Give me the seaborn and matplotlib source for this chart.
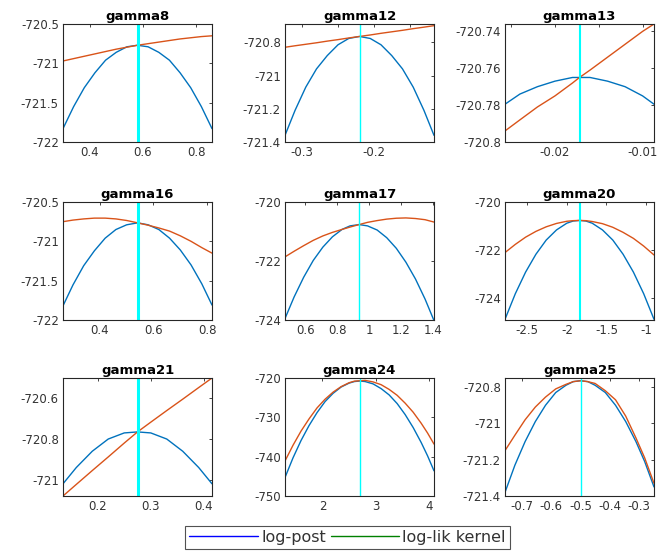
import matplotlib
matplotlib.use("Agg")
import matplotlib.pyplot as plt
from matplotlib.lines import Line2D
import seaborn as sns

sns.set_theme(style="white")
plt.rcParams["font.family"] = ["DejaVu Sans"]
plt.rcParams["axes.unicode_minus"] = False

# ---- data (x grid, log-post, log-lik kernel) ----
NAMES = ["gamma8", "gamma12", "gamma13", "gamma16", "gamma17",
         "gamma20", "gamma21", "gamma24", "gamma25"]
MODES = [0.58, -0.22, -0.0172, 0.541, 0.937, -1.84, 0.275, 2.70, -0.50]

G8_X = [0.30, 0.34, 0.38, 0.42, 0.46, 0.50, 0.54, 0.58,
        0.62, 0.66, 0.70, 0.74, 0.78, 0.82, 0.86]
G8_POST = [-721.83, -721.55, -721.31, -721.12, -720.96, -720.86, -720.79, -720.77,
           -720.79, -720.86, -720.96, -721.12, -721.31, -721.55, -721.83]
G8_LIK = [-720.97, -720.94, -720.91, -720.88, -720.85, -720.82, -720.795, -720.77,
          -720.75, -720.73, -720.71, -720.69, -720.675, -720.66, -720.65]

G12_X = [-0.324, -0.31, -0.295, -0.28, -0.265, -0.25, -0.235, -0.22,
         -0.205, -0.19, -0.175, -0.16, -0.145, -0.13, -0.116]
G12_POST = [-721.36, -721.21, -721.07, -720.96, -720.88, -720.815, -720.777, -720.765,
            -720.777, -720.815, -720.88, -720.96, -721.07, -721.21, -721.36]
G12_LIK = [-720.83, -720.821, -720.812, -720.803, -720.793, -720.784, -720.774, -720.765,
           -720.756, -720.746, -720.737, -720.728, -720.718, -720.709, -720.70]

G13_X = [-0.0257, -0.024, -0.022, -0.020, -0.018, -0.0172,
         -0.016, -0.014, -0.012, -0.010, -0.0087]
G13_POST = [-720.7795, -720.774, -720.770, -720.767, -720.765, -720.765,
            -720.765, -720.767, -720.770, -720.775, -720.7795]
G13_LIK = [-720.794, -720.788, -720.781, -720.775, -720.768, -720.765,
           -720.761, -720.754, -720.747, -720.740, -720.736]

G16_X = [0.263, 0.30, 0.34, 0.38, 0.42, 0.46, 0.50, 0.541,
         0.58, 0.62, 0.66, 0.70, 0.74, 0.78, 0.818]
G16_POST = [-721.82, -721.555, -721.31, -721.12, -720.96, -720.85, -720.79, -720.765,
            -720.79, -720.85, -720.96, -721.11, -721.30, -721.54, -721.81]
G16_LIK = [-720.75, -720.73, -720.715, -720.705, -720.705, -720.715, -720.735, -720.765,
           -720.795, -720.83, -720.87, -720.93, -721.00, -721.08, -721.15]

G17_X = [0.473, 0.53, 0.59, 0.65, 0.71, 0.77, 0.83, 0.88, 0.937,
         0.99, 1.05, 1.11, 1.17, 1.23, 1.29, 1.35, 1.406]
G17_POST = [-723.95, -723.22, -722.55, -721.98, -721.53, -721.18, -720.93, -720.81, -720.765,
            -720.81, -720.95, -721.21, -721.57, -722.04, -722.61, -723.29, -724.02]
G17_LIK = [-721.86, -721.67, -721.48, -721.30, -721.15, -721.03, -720.93, -720.85, -720.765,
           -720.69, -720.63, -720.58, -720.55, -720.54, -720.56, -720.60, -720.68]

G20_X = [-2.78, -2.65, -2.52, -2.39, -2.26, -2.13, -2.0, -1.92, -1.84,
         -1.76, -1.68, -1.55, -1.42, -1.29, -1.16, -1.03, -0.90]
G20_POST = [-724.87, -723.81, -722.91, -722.17, -721.58, -721.16, -720.88, -720.79, -720.765,
            -720.79, -720.88, -721.16, -721.58, -722.17, -722.91, -723.81, -724.87]
G20_LIK = [-722.10, -721.76, -721.46, -721.22, -721.03, -720.89, -720.80, -720.775, -720.765,
           -720.775, -720.81, -720.90, -721.05, -721.26, -721.51, -721.83, -722.20]

G21_X = [0.135, 0.16, 0.19, 0.22, 0.25, 0.275, 0.30, 0.33, 0.36, 0.39, 0.415]
G21_POST = [-721.02, -720.94, -720.86, -720.80, -720.77, -720.765,
            -720.77, -720.80, -720.86, -720.94, -721.02]
G21_LIK = [-721.08, -721.023, -720.955, -720.888, -720.82, -720.765,
           -720.717, -720.66, -720.604, -720.547, -720.50]

G24_X = [1.30, 1.45, 1.60, 1.75, 1.90, 2.05, 2.20, 2.35, 2.50, 2.60, 2.70,
         2.80, 2.95, 3.10, 3.25, 3.40, 3.55, 3.70, 3.85, 3.97, 4.09]
G24_POST = [-745.3, -740.3, -735.9, -732.1, -728.8, -726.0, -723.9, -722.3, -721.3, -720.9, -720.77,
            -720.9, -721.5, -722.7, -724.3, -726.5, -729.3, -732.6, -736.4, -739.8, -743.6]
G24_LIK = [-741.1, -737.1, -733.5, -730.4, -727.6, -725.4, -723.6, -722.2, -721.2, -720.8, -720.7,
           -720.6, -721.0, -721.7, -722.9, -724.4, -726.4, -728.7, -731.5, -734.0, -736.8]

G25_X = [-0.759, -0.725, -0.69, -0.655, -0.62, -0.585, -0.55, -0.525, -0.50,
         -0.475, -0.45, -0.415, -0.38, -0.345, -0.31, -0.28, -0.248]
G25_POST = [-721.38, -721.23, -721.10, -720.99, -720.90, -720.83, -720.79, -720.77, -720.765,
            -720.77, -720.79, -720.83, -720.90, -720.99, -721.10, -721.21, -721.35]
G25_LIK = [-721.15, -721.065, -720.98, -720.91, -720.855, -720.81, -720.785, -720.77, -720.765,
           -720.77, -720.78, -720.82, -720.87, -720.96, -721.08, -721.19, -721.33]

XS = [G8_X, G12_X, G13_X, G16_X, G17_X, G20_X, G21_X, G24_X, G25_X]
POSTS = [G8_POST, G12_POST, G13_POST, G16_POST, G17_POST,
         G20_POST, G21_POST, G24_POST, G25_POST]
LIKS = [G8_LIK, G12_LIK, G13_LIK, G16_LIK, G17_LIK,
        G20_LIK, G21_LIK, G24_LIK, G25_LIK]

# ---- axes layout (limits, ticks, cyan width) ----
YLIMS = [(-722, -720.5), (-721.4, -720.69), (-720.8, -720.736),
         (-722, -720.5), (-724, -720), (-724.9, -720),
         (-721.08, -720.5), (-750, -720), (-721.4, -720.75)]
YTICKS = [[-722, -721.5, -721, -720.5], [-721.4, -721.2, -721, -720.8],
          [-720.8, -720.78, -720.76, -720.74], [-722, -721.5, -721, -720.5],
          [-724, -722, -720], [-724, -722, -720], [-721, -720.8, -720.6],
          [-750, -740, -730, -720], [-721.4, -721.2, -721, -720.8]]
XTICKS = [[0.4, 0.6, 0.8], [-0.3, -0.2], [-0.02, -0.01], [0.4, 0.6, 0.8],
          [0.6, 0.8, 1, 1.2, 1.4], [-2.5, -2, -1.5, -1], [0.2, 0.3, 0.4],
          [2, 3, 4], [-0.7, -0.6, -0.5, -0.4, -0.3]]
XMINOR = [[], [-0.25, -0.15], [-0.025, -0.015], [], [], [], [], [], []]
CYAN_W = [2.2, 1.0, 1.5, 2.2, 1.0, 1.5, 2.2, 1.0, 1.0]

W, H = 657, 560
AX_LEFT = [63, 285, 505]
AX_TOP = [24, 202, 378]
AX_W, AX_H = 149, 118

BLUE = "#0072BD"
ORANGE = "#D95319"
DARK = "#262626"

fig = plt.figure(figsize=(W / 100, H / 100), dpi=100)
fig.patch.set_facecolor("white")

for i, name in enumerate(NAMES):
    r, c = divmod(i, 3)
    ax = fig.add_axes([AX_LEFT[c] / W, 1 - (AX_TOP[r] + AX_H) / H, AX_W / W, AX_H / H])
    sns.lineplot(x=XS[i], y=POSTS[i], color=BLUE, lw=1.0, ax=ax, sort=False, estimator=None)
    sns.lineplot(x=XS[i], y=LIKS[i], color=ORANGE, lw=1.0, ax=ax, sort=False, estimator=None)
    ax.axvline(MODES[i], color="#00FFFF", lw=CYAN_W[i])

    ax.set_xlim(min(XS[i]), max(XS[i]))
    ax.set_ylim(*YLIMS[i])
    ax.set_xticks(XTICKS[i])
    ax.set_xticklabels([f"{t:g}" for t in XTICKS[i]])
    ax.set_xticks(XMINOR[i], minor=True)
    ax.set_yticks(YTICKS[i])
    ax.set_yticklabels([f"{t:g}" for t in YTICKS[i]])
    ax.tick_params(which="both", direction="in", top=True, right=True,
                   length=2.5, width=0.6, color=DARK, labelsize=8.5,
                   labelcolor="#333333", pad=3)
    ax.set_xlabel("")
    ax.set_ylabel("")
    for s in ax.spines.values():
        s.set_color(DARK)
        s.set_linewidth(0.8)
    ax.set_title(name, fontsize=9.5, fontweight="bold", color="black", pad=3)

handles = [Line2D([], [], color="#0000FF", lw=1.0),
           Line2D([], [], color="#008000", lw=1.0)]
leg = fig.legend(handles, ["log-post", "log-lik kernel"], loc="center",
                 bbox_to_anchor=(0.529, 0.041), ncol=2, fontsize=11.5,
                 frameon=True, fancybox=False, handlelength=4.3,
                 handletextpad=0.2, columnspacing=0.3, borderpad=0.25,
                 borderaxespad=0)
leg.get_frame().set_edgecolor(DARK)
leg.get_frame().set_linewidth(0.8)
for t in leg.get_texts():
    t.set_color("#333333")

fig.savefig("out.png", dpi=100)
